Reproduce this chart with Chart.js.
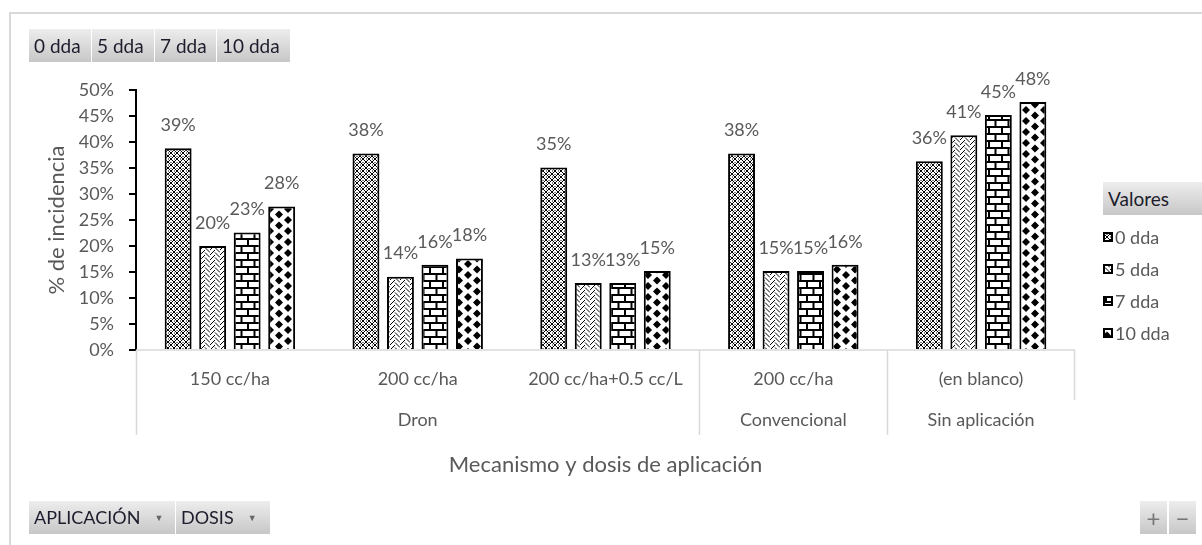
<!DOCTYPE html>
<html lang="es">
<head>
<meta charset="utf-8">
<title>% de incidencia</title>
<script src="https://cdn.jsdelivr.net/npm/chart.js@4.4.1/dist/chart.umd.min.js"></script>
<style>
  body { margin: 0; background: #fff; }
  #wrap { position: relative; width: 1202px; height: 545px; overflow: hidden; font-family: Lato, "Noto Sans", sans-serif; }
  #chart { position: absolute; left: 0; top: 0; }
  .bar { position: absolute; display: flex; gap: 1px; }
  .btn { height: 33px; line-height: 33px; font-size: 19px; color: #1c1c2c; background: linear-gradient(#ededed, #c7c7c7); padding-left: 5px; box-sizing: border-box; white-space: nowrap; }
  .low .btn { font-size: 18px; }
  .btn .arr { font-size: 9px; color: #666; margin-left: 14px; vertical-align: 3px; }
  .pm { width: 27px; padding: 0; text-align: center; color: #777; font-size: 24px; }
</style>
</head>
<body>
<div id="wrap">
  <canvas id="chart" width="1202" height="545"></canvas>
  <div class="bar" id="seriesButtons" style="left:29px; top:29px;"></div>
  <div class="bar" style="left:1103px; top:182px;"><div class="btn" style="width:99px;">Valores</div></div>
  <div class="bar low" style="left:29px; top:501px;">
    <div class="btn" style="width:146px;">APLICACIÓN<span class="arr">▼</span></div>
    <div class="btn" style="width:94px;">DOSIS<span class="arr">▼</span></div>
  </div>
  <div class="bar" style="left:1140px; top:501px; gap:2px;">
    <div class="btn pm">+</div>
    <div class="btn pm">−</div>
  </div>
</div>
<script>
// ----- Data -----
const categories = ["150 cc/ha", "200 cc/ha", "200 cc/ha+0.5 cc/L", "200 cc/ha", "(en blanco)"];
const groupNames = ["Dron", "Convencional", "Sin aplicación"];
const groupSizes = [3, 1, 1];
const seriesNames = ["0 dda", "5 dda", "7 dda", "10 dda"];
const dda0 = [0.388, 0.378, 0.351, 0.378, 0.363];
const dda5 = [0.200, 0.141, 0.129, 0.152, 0.413];
const dda7 = [0.226, 0.164, 0.129, 0.152, 0.452];
const dda10 = [0.276, 0.176, 0.152, 0.164, 0.477];

const FONT = 'Lato, "Noto Sans", sans-serif';
const GREY = "#595959";

// ----- Series buttons on top -----
const btnWidths = [62, 62, 61, 73];
seriesNames.forEach((name, i) => {
  const b = document.createElement("div");
  b.className = "btn";
  b.style.width = btnWidths[i] + "px";
  b.textContent = name;
  document.getElementById("seriesButtons").appendChild(b);
});

// ----- Fill patterns (black on white, like the Excel ones) -----
function makePattern(w, h, draw) {
  const c = document.createElement("canvas");
  c.width = w; c.height = h;
  const g = c.getContext("2d");
  g.fillStyle = "#fff";
  g.fillRect(0, 0, w, h);
  g.fillStyle = "#000";
  g.strokeStyle = "#000";
  draw(g);
  return g.createPattern(c, "repeat");
}

// 0 dda: dense lattice
const patLattice = makePattern(6, 6, g => {
  g.lineWidth = 1;
  g.beginPath();
  g.moveTo(0, 0); g.lineTo(6, 6);
  g.moveTo(6, 0); g.lineTo(0, 6);
  g.stroke();
  g.fillRect(2.5, 0, 1, 1);
  g.fillRect(0, 2.5, 1, 1);
});

// 5 dda: herringbone weave
const patWeave = makePattern(10, 10, g => {
  g.lineWidth = 1;
  g.beginPath();
  g.moveTo(0, 5); g.lineTo(5, 0);
  g.moveTo(0, 10); g.lineTo(5, 5);
  g.moveTo(5, 2.5); g.lineTo(10, 7.5);
  g.moveTo(5, -2.5); g.lineTo(10, 2.5);
  g.moveTo(5, 7.5); g.lineTo(7.5, 10);
  g.stroke();
});

// 7 dda: horizontal bricks
const patBrick = makePattern(26, 14, g => {
  g.fillRect(0, 0, 26, 2);
  g.fillRect(0, 7, 26, 2);
  g.fillRect(0, 0, 2, 7);
  g.fillRect(13, 0, 2, 7);
  g.fillRect(6.5, 7, 2, 7);
  g.fillRect(19.5, 7, 2, 7);
});

// 10 dda: staggered black stars on white
const patStars = makePattern(18, 11, g => {
  const star = (cx, cy) => {
    g.beginPath();
    g.moveTo(cx - 4, cy); g.lineTo(cx, cy - 4); g.lineTo(cx + 4, cy); g.lineTo(cx, cy + 4);
    g.closePath();
    g.fill();
    g.beginPath();
    g.arc(cx, cy, 2.4, 0, Math.PI * 2);
    g.fill();
  };
  [[0, 0], [18, 0], [0, 11], [18, 11], [9, 5.5]].forEach(p => star(p[0], p[1]));
});

const patterns = [patLattice, patWeave, patBrick, patStars];
const seriesData = [dda0, dda5, dda7, dda10];

// ----- Extra drawing: frame, data labels, two-level axis, legend -----
const pivotPlugin = {
  id: "pivotExtras",
  beforeDraw(chart) {
    const ctx = chart.ctx;
    ctx.save();
    ctx.fillStyle = "#fff";
    ctx.fillRect(0, 0, chart.width, chart.height);
    ctx.strokeStyle = "#d9d9d9";
    ctx.lineWidth = 2;
    ctx.beginPath();
    ctx.moveTo(10, chart.height);
    ctx.lineTo(10, 13);
    ctx.lineTo(chart.width, 13);
    ctx.stroke();
    ctx.restore();
  },
  afterDatasetsDraw(chart) {
    const ctx = chart.ctx;
    ctx.save();
    ctx.font = "18px " + FONT;
    ctx.fillStyle = GREY;
    ctx.textAlign = "center";
    ctx.textBaseline = "middle";
    chart.data.datasets.forEach((ds, i) => {
      chart.getDatasetMeta(i).data.forEach((bar, j) => {
        ctx.fillText(Math.round(ds.data[j] * 100) + "%", bar.x, bar.y - 23);
      });
    });
    ctx.restore();
  },
  afterDraw(chart) {
    const ctx = chart.ctx;
    const area = chart.chartArea;
    const xs = chart.scales.x;
    const step = (area.right - area.left) / categories.length;
    ctx.save();

    // baseline and group separators
    ctx.strokeStyle = "#d9d9d9";
    ctx.lineWidth = 1.5;
    ctx.beginPath();
    ctx.moveTo(area.left, area.bottom);
    ctx.lineTo(area.right, area.bottom);
    let start = 0;
    groupSizes.forEach(n => {
      const x0 = Math.round(area.left + start * step) + 0.5;
      ctx.moveTo(x0, area.bottom);
      ctx.lineTo(x0, area.bottom + 85);
      start += n;
    });
    ctx.moveTo(Math.round(area.right) - 0.5, area.bottom);
    ctx.lineTo(Math.round(area.right) - 0.5, area.bottom + 50);
    ctx.stroke();

    ctx.fillStyle = GREY;
    ctx.textAlign = "center";
    ctx.textBaseline = "middle";
    ctx.font = "18px " + FONT;
    categories.forEach((c, i) => ctx.fillText(c, xs.getPixelForValue(i), area.bottom + 29));

    start = 0;
    groupNames.forEach((g, k) => {
      const x0 = area.left + start * step;
      const x1 = x0 + groupSizes[k] * step;
      ctx.fillText(g, (x0 + x1) / 2, area.bottom + 70);
      start += groupSizes[k];
    });

    ctx.font = "22px " + FONT;
    ctx.fillText("Mecanismo y dosis de aplicación", (area.left + area.right) / 2, area.bottom + 115);

    // legend
    const lx = area.right + 28;
    ctx.font = "18px " + FONT;
    ctx.textAlign = "left";
    chart.data.datasets.forEach((ds, i) => {
      const y = 237 + i * 32;
      ctx.fillStyle = ds.backgroundColor;
      ctx.fillRect(lx, y - 5, 10, 10);
      ctx.strokeStyle = "#000";
      ctx.lineWidth = 2;
      ctx.strokeRect(lx + 1, y - 4, 8, 8);
      ctx.fillStyle = GREY;
      ctx.fillText(ds.label, lx + 12, y + 1);
    });
    ctx.restore();
  }
};

new Chart(document.getElementById("chart"), {
  type: "bar",
  data: {
    labels: categories,
    datasets: seriesNames.map((name, i) => ({
      label: name,
      data: seriesData[i],
      backgroundColor: patterns[i],
      borderColor: "#000",
      borderWidth: 2,
      categoryPercentage: 0.735,
      barPercentage: 0.78
    }))
  },
  options: {
    responsive: false,
    animation: false,
    layout: { padding: { top: 90, right: 127, bottom: 195, left: 0 } },
    plugins: {
      legend: { display: false },
      tooltip: { enabled: false }
    },
    scales: {
      x: { display: false },
      y: {
        min: 0,
        max: 0.5,
        afterFit(s) { s.width = 136; },
        border: { display: true, color: "#000", width: 2 },
        grid: { drawOnChartArea: false, drawTicks: true, tickLength: 7, color: "#000", lineWidth: 2 },
        ticks: {
          stepSize: 0.05,
          padding: 15,
          color: GREY,
          font: { family: FONT, size: 18 },
          callback: v => Math.round(v * 100) + "%"
        },
        title: {
          display: true,
          text: "% de incidencia",
          color: GREY,
          font: { family: FONT, size: 22 },
          padding: { top: 44 }
        }
      }
    }
  },
  plugins: [pivotPlugin]
});
</script>
</body>
</html>
